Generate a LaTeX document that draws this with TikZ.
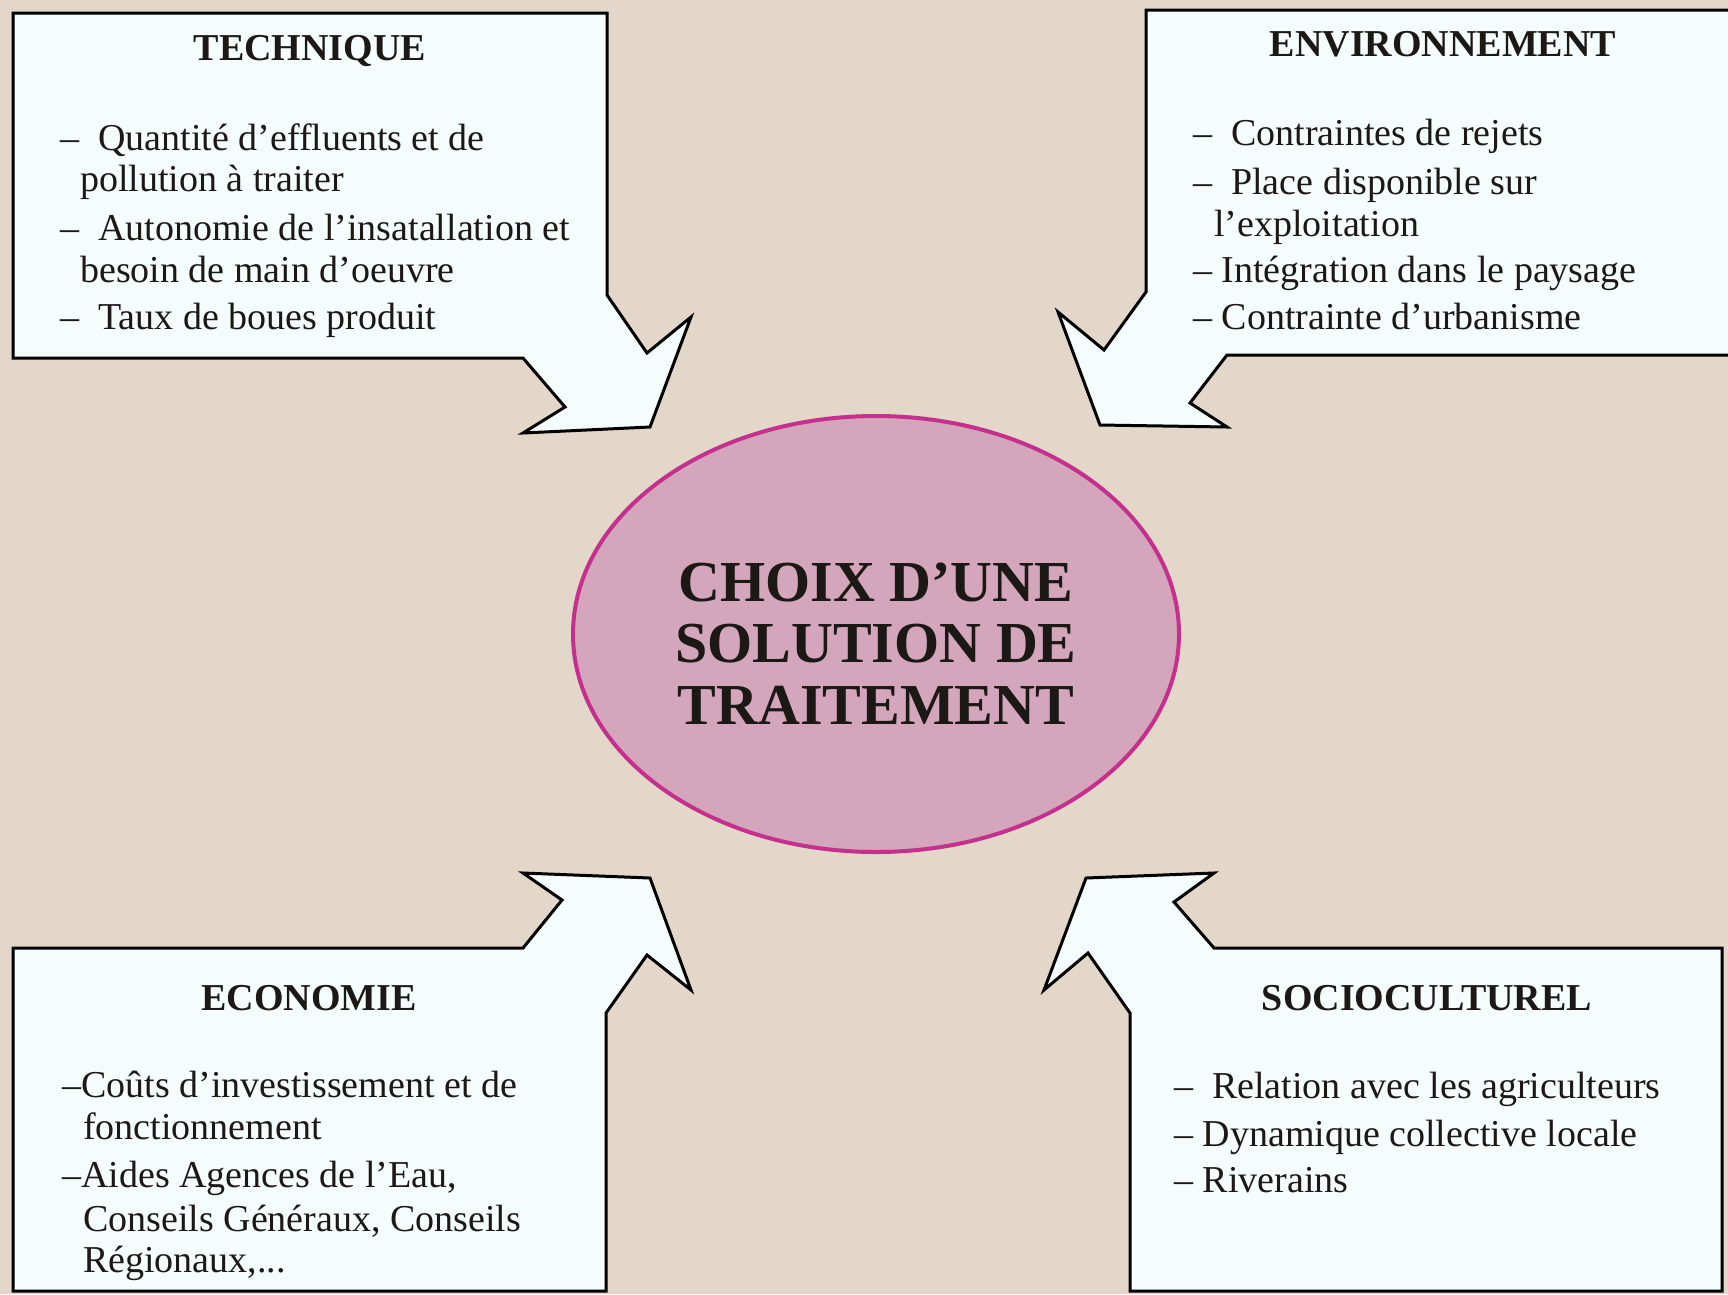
\documentclass[tikz,border=0pt]{standalone}
\usepackage{fontspec}
\setmainfont{Liberation Serif}
\usetikzlibrary{shapes.geometric}
\definecolor{bg}{RGB}{226,215,201}
\definecolor{boxfill}{RGB}{244,252,252}
\definecolor{ellfill}{RGB}{212,166,188}
\definecolor{elldraw}{RGB}{196,48,140}
\definecolor{ink}{RGB}{28,24,22}
\tikzset{
  callout/.style={draw=black, line width=3pt, fill=boxfill, line join=miter},
  boxtitle/.style={anchor=base, inner sep=0pt, text=ink, font=\fontsize{38}{44}\selectfont\bfseries},
  item/.style={anchor=base west, inner sep=0pt, text=ink, font=\fontsize{38}{41}\selectfont},
  bigtext/.style={anchor=base, inner sep=0pt, text=ink, font=\fontsize{58}{62}\selectfont\bfseries},
}
\begin{document}
\begin{tikzpicture}[x=1pt,y=-1pt]
\fill[bg] (0,0) rectangle (1728,1294);
\useasboundingbox (0,0) rectangle (1728,1294);
\begin{scope}
\clip (0,0) rectangle (1728,1294);
% TECHNIQUE callout
\draw[callout] (13,13) -- (607,13) -- (607,295) -- (647,353) -- (691,317) -- (650,427)
  -- (523,433) -- (565,407) -- (523,358) -- (13,358) -- cycle;
% ENVIRONNEMENT callout
\draw[callout] (1146,10) -- (1760,10) -- (1760,355) -- (1227,355) -- (1190,403) -- (1227,427)
  -- (1100,425) -- (1058,312) -- (1104,350) -- (1146,292) -- cycle;
% ECONOMIE callout
\draw[callout] (13,948) -- (523,948) -- (562,900) -- (523,873) -- (650,878) -- (691,990)
  -- (647,955) -- (606,1013) -- (606,1291) -- (13,1291) -- cycle;
% SOCIOCULTUREL callout
\draw[callout] (1130,1291) -- (1130,1013) -- (1088,953) -- (1044,990) -- (1086,878) -- (1214,873)
  -- (1174,902) -- (1214,948) -- (1722,948) -- (1722,1291) -- cycle;
\end{scope}

% centre ellipse
\node[ellipse, draw=elldraw, line width=4pt, fill=ellfill, minimum width=606pt, minimum height=436pt, inner sep=0pt] (choice) at (876,634) {};
\node[bigtext] (c1) at (876,601) {CHOIX D’UNE};
\node[bigtext] (c2) at (876,662) {SOLUTION DE};
\node[bigtext] (c3) at (876,724) {TRAITEMENT};

% TECHNIQUE
\node[boxtitle] (tqT) at (310,60) {TECHNIQUE};
\node[item] (tq1) at (60,150) {–~ Quantité d’effluents et de};
\node[item] (tq2) at (80,191) {pollution à traiter};
\node[item] (tq3) at (60,240) {–~ Autonomie de l’insatallation et};
\node[item] (tq4) at (80,282) {besoin de main d’oeuvre};
\node[item] (tq5) at (60,329) {–~ Taux de boues produit};

% ENVIRONNEMENT
\node[boxtitle] (evT) at (1443,56) {ENVIRONNEMENT};
\node[item] (ev1) at (1193,145) {–~ Contraintes de rejets};
\node[item] (ev2) at (1193,194) {–~ Place disponible sur};
\node[item] (ev3) at (1214,236) {l’exploitation};
\node[item] (ev4) at (1193,282) {– Intégration dans le paysage};
\node[item] (ev5) at (1193,329) {– Contrainte d’urbanisme};

% ECONOMIE
\node[boxtitle] (ecT) at (309,1010) {ECONOMIE};
\node[item] (ec1) at (62,1097) {–Coûts d’investissement et de};
\node[item] (ec2) at (83,1139) {fonctionnement};
\node[item] (ec3) at (62,1187) {–Aides Agences de l’Eau,};
\node[item] (ec4) at (83,1231) {Conseils Généraux, Conseils};
\node[item] (ec5) at (83,1272) {Régionaux,...};

% SOCIOCULTUREL
\node[boxtitle] (scT) at (1427,1010) {SOCIOCULTUREL};
\node[item] (sc1) at (1174,1098) {–~ Relation avec les agriculteurs};
\node[item] (sc2) at (1174,1146) {– Dynamique collective locale};
\node[item] (sc3) at (1174,1192) {– Riverains};
\end{tikzpicture}
\end{document}
